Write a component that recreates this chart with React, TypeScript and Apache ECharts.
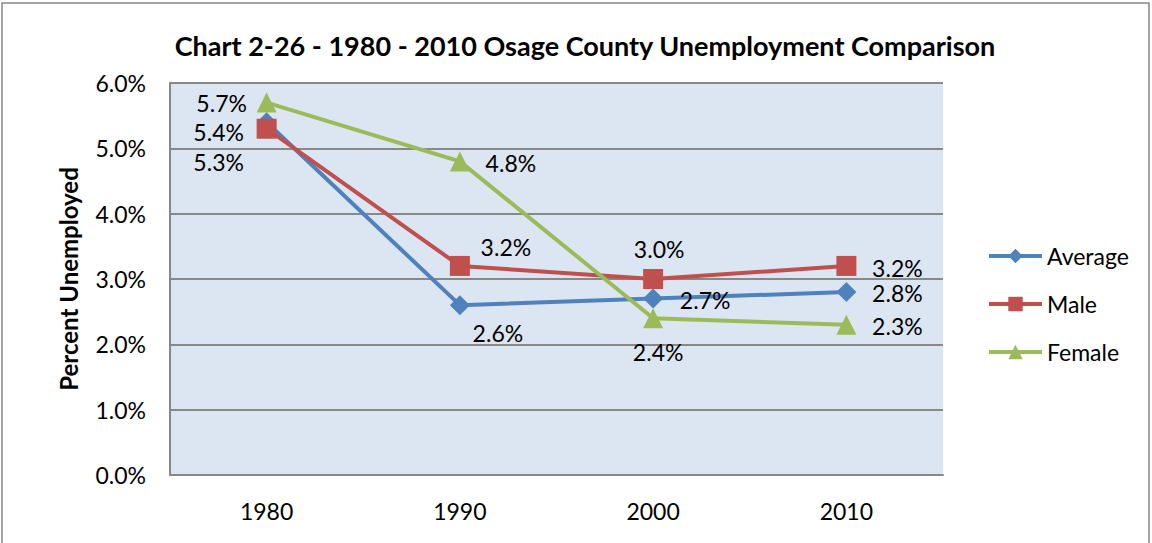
import React, { useEffect, useRef } from "react";
import * as echarts from "echarts";

const years = ["1980", "1990", "2000", "2010"];
const average = [5.4, 2.6, 2.7, 2.8];
const male = [5.3, 3.2, 3.0, 3.2];
const female = [5.7, 4.8, 2.4, 2.3];

// label offsets (pixels) relative to each point — styling only
const avgOffsets = [[-48, 10], [38, 28], [52, 1], [51, 1]];
const maleOffsets = [[-48, 33], [46, -19], [6, -30], [51, 2]];
const femaleOffsets = [[-45, 0], [51, 2], [5, 34], [51, 1]];

const FONT = "Lato";

function withLabels(values: number[], offsets: number[][]) {
  return values.map((v, i) => ({
    value: v,
    label: { offset: offsets[i] },
  }));
}

export default function App() {
  const ref = useRef<HTMLDivElement>(null);
  useEffect(() => {
    if (!ref.current) return;
    const chart = echarts.init(ref.current, undefined, { renderer: "svg" });
    const labelBase = {
      show: true,
      position: "inside",
      align: "center",
      verticalAlign: "middle",
      color: "#000",
      fontFamily: FONT,
      fontSize: 23,
      formatter: (p: any) => `${Number(p.value).toFixed(1)}%`,
    };
    const mk = (name: string, color: string, symbol: string, data: any[]) => ({
      name,
      type: "line",
      data,
      symbol,
      symbolSize: 20,
      lineStyle: { color, width: 4 },
      itemStyle: { color },
      label: labelBase,
    });
    chart.setOption({
      animation: false,
      backgroundColor: "#fff",
      title: {
        text: "Chart 2-26 - 1980 - 2010 Osage County Unemployment Comparison",
        left: 580,
        textAlign: "center",
        top: 27,
        textStyle: { fontFamily: FONT, fontWeight: "bold", fontSize: 27, color: "#000" },
      },
      graphic: [
        {
          type: "rect",
          shape: { x: 2, y: 3, width: 1147, height: 600 },
          style: { fill: "none", stroke: "#888", lineWidth: 1.5 },
          silent: true,
        },
      ],
      legend: {
        orient: "vertical",
        left: 982,
        top: 237,
        itemWidth: 53,
        itemHeight: 18,
        itemGap: 20,
        lineStyle: { width: 4 },
        textStyle: { fontFamily: FONT, fontSize: 23, color: "#000", lineHeight: 28 },
        data: ["Average", "Male", "Female"],
      },
      grid: {
        left: 170,
        top: 83,
        right: 209,
        bottom: 68,
        show: true,
        backgroundColor: "#DCE6F2",
        borderWidth: 0,
      },
      xAxis: {
        type: "category",
        data: years,
        boundaryGap: true,
        axisLine: { lineStyle: { color: "#888", width: 2 } },
        axisTick: { show: false },
        axisLabel: { fontFamily: FONT, fontSize: 23, color: "#000", margin: 24 },
      },
      yAxis: {
        type: "value",
        min: 0,
        max: 6,
        interval: 1,
        name: "Percent Unemployed",
        nameLocation: "middle",
        nameGap: 90,
        nameTextStyle: { fontFamily: FONT, fontWeight: "bold", fontSize: 24, color: "#000" },
        axisLine: { show: true, lineStyle: { color: "#888", width: 2 } },
        axisTick: { show: false },
        splitLine: { lineStyle: { color: "#888", width: 2 } },
        axisLabel: {
          fontFamily: FONT,
          fontSize: 23,
          color: "#000",
          margin: 24,
          formatter: (v: number) => `${v.toFixed(1)}%`,
        },
      },
      series: [
        mk("Average", "#4F81BD", "diamond", withLabels(average, avgOffsets)),
        mk("Male", "#C0504D", "rect", withLabels(male, maleOffsets)),
        mk("Female", "#9BBB59", "triangle", withLabels(female, femaleOffsets)),
      ],
    });
    return () => chart.dispose();
  }, []);
  return (
    <div
      ref={ref}
      style={{ position: "fixed", left: 0, top: 0, width: 1152, height: 543 }}
    />
  );
}
